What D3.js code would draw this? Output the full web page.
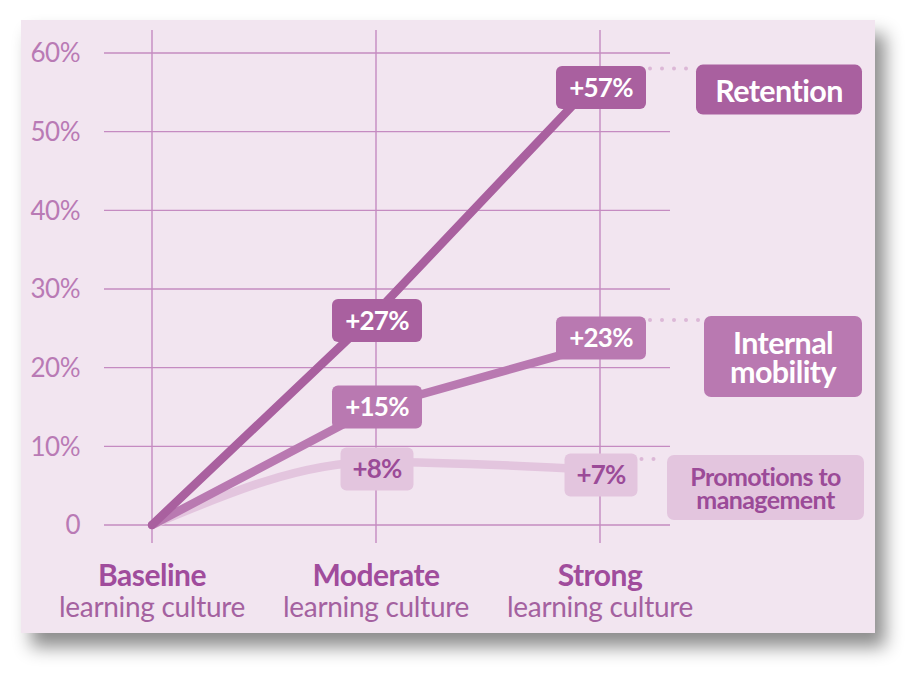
<!DOCTYPE html>
<html>
<head>
<meta charset="utf-8">
<script src="https://cdn.jsdelivr.net/npm/d3@7"></script>
<style>
  html, body { margin: 0; padding: 0; background: #ffffff; }
  svg { display: block; font-family: Lato, "Noto Sans", sans-serif; }
</style>
</head>
<body>
<svg id="chart" width="918" height="677"></svg>
<script>
// ---- data ----
const categories = ["Baseline", "Moderate", "Strong"];
const categorySub = ["learning culture", "learning culture", "learning culture"];
const retention = [0, 27, 57];
const mobility = [0, 15, 23];
const promotions = [0, 8, 7];
const yTicks = [0, 10, 20, 30, 40, 50, 60];
const seriesNames = ["Retention", "Internal mobility", "Promotions to management"];

// ---- style / layout ----
const W = 918, H = 677;
const panel = { x: 21, y: 20, w: 854, h: 613 };
const plot = { left: 152, right: 600, top: 53, bottom: 525 };
const styles = {
  "Retention": { line: "#a9609f", box: "#a9609f", text: "#ffffff", curve: d3.curveLinear, lines: ["Retention"], fs: 30.5, lh: 0, boxW: 90, legendW: 166, legendH: 50, legendX: 696, legendDy: -12, nudge: [0, 8, 11] },
  "Internal mobility": { line: "#b979b1", box: "#b979b1", text: "#ffffff", curve: d3.curveLinear, lines: ["Internal", "mobility"], fs: 30.5, lh: 29, boxW: 90, legendW: 158, legendH: 81, legendX: 704, legendDy: -28, nudge: [0, 0, -6] },
  "Promotions to management": { line: "#e3c5de", box: "#e3c5de", text: "#9b4b98", curve: d3.curveMonotoneX, lines: ["Promotions to", "management"], fs: 25, lh: 23, boxW: 73, legendW: 197, legendH: 65, legendX: 667, legendDy: -15, nudge: [0, 7, 5] }
};
const seriesValues = [retention, mobility, promotions];

const svg = d3.select("#chart");
const defs = svg.append("defs");
const f = defs.append("filter").attr("id", "shadow").attr("x", "-10%").attr("y", "-10%").attr("width", "130%").attr("height", "130%");
f.append("feDropShadow").attr("dx", 10).attr("dy", 14).attr("stdDeviation", 9)
  .attr("flood-color", "#000").attr("flood-opacity", 0.45);

svg.append("rect").attr("x", panel.x).attr("y", panel.y).attr("width", panel.w).attr("height", panel.h)
  .attr("fill", "#f2e5f0").attr("filter", "url(#shadow)");

const x = d3.scalePoint().domain(categories).range([plot.left, plot.right]);
const y = d3.scaleLinear().domain([0, 60]).range([plot.bottom, plot.top]);

const gridColor = "#c58bc1";
// horizontal grid
svg.append("g").selectAll("line").data(yTicks).join("line")
  .attr("x1", 104).attr("x2", 670)
  .attr("y1", d => y(d)).attr("y2", d => y(d))
  .attr("stroke", gridColor).attr("stroke-width", 1.4);
// vertical grid
svg.append("g").selectAll("line").data(categories).join("line")
  .attr("x1", d => x(d)).attr("x2", d => x(d))
  .attr("y1", 30).attr("y2", 543)
  .attr("stroke", gridColor).attr("stroke-width", 1.4);

// y tick labels
svg.append("g").selectAll("text").data(yTicks).join("text")
  .attr("x", 80).attr("y", d => y(d)).attr("dy", "0.36em")
  .attr("text-anchor", "end").attr("fill", "#b97ab5")
  .attr("font-size", 26).attr("letter-spacing", -0.5)
  .text(d => d === 0 ? "0" : d + "%");

// x labels
const xl = svg.append("g");
xl.selectAll("text.main").data(categories).join("text").attr("class", "main")
  .attr("x", d => x(d)).attr("y", 586).attr("text-anchor", "middle")
  .attr("fill", "#a04c9c").attr("font-weight", 700).attr("font-size", 30).attr("letter-spacing", -0.5)
  .text(d => d);
xl.selectAll("text.sub").data(categories).join("text").attr("class", "sub")
  .attr("x", d => x(d)).attr("y", 617).attr("text-anchor", "middle")
  .attr("fill", "#a461a0").attr("font-size", 28).attr("letter-spacing", -0.3)
  .text((d, i) => categorySub[i]);

// lines (draw promotions first)
const order = [2, 1, 0];
order.forEach(si => {
  const st = styles[seriesNames[si]];
  const line = d3.line().x((d, i) => x(categories[i])).y(d => y(d)).curve(st.curve);
  svg.append("path").datum(seriesValues[si]).attr("d", line)
    .attr("fill", "none").attr("stroke", st.line).attr("stroke-width", 8.5)
    .attr("stroke-linecap", "round").attr("stroke-linejoin", "round");
});

// value labels
const fmt = v => "+" + v + "%";
order.forEach(si => {
  const name = seriesNames[si];
  const st = styles[name];
  const vals = seriesValues[si];
  const g = svg.append("g");
  vals.forEach((v, i) => {
    if (i === 0) return;
    const cx = x(categories[i]) + 1;
    const cy = y(v) + st.nudge[i];
    g.append("rect").attr("x", cx - st.boxW / 2).attr("y", cy - 21.5)
      .attr("width", st.boxW).attr("height", 43).attr("rx", 6).attr("fill", st.box);
    g.append("text").attr("x", cx).attr("y", cy).attr("dy", "0.36em")
      .attr("text-anchor", "middle").attr("fill", st.text)
      .attr("font-weight", 700).attr("font-size", 26).attr("letter-spacing", -0.8)
      .text(fmt(v));
  });
});

// legend boxes + dotted leaders
seriesNames.forEach((name, si) => {
  const st = styles[name];
  const vals = seriesValues[si];
  const last = vals[vals.length - 1];
  const top = y(last) + st.legendDy;
  const lastBoxRight = x(categories[categories.length - 1]) + 1 + st.boxW / 2;
  const dotY = top + 4;
  const dots = d3.range(lastBoxRight + 4, st.legendX - 2, 12);
  svg.append("g").selectAll("circle").data(dots).join("circle")
    .attr("cx", d => d).attr("cy", dotY).attr("r", 2).attr("fill", "#dcb8d7");
  svg.append("rect").attr("x", st.legendX).attr("y", top)
    .attr("width", st.legendW).attr("height", st.legendH).attr("rx", 7).attr("fill", st.box);
  const cy = top + st.legendH / 2 + 1;
  const tx = st.legendX + st.legendW / 2;
  const label = svg.append("text")
    .attr("text-anchor", "middle")
    .attr("fill", st.text).attr("font-weight", 700)
    .attr("font-size", st.fs).attr("letter-spacing", -0.6);
  st.lines.forEach((t, li) => {
    label.append("tspan")
      .attr("x", tx)
      .attr("y", cy + (li - (st.lines.length - 1) / 2) * st.lh)
      .attr("dy", "0.36em")
      .text(t);
  });
});
</script>
</body>
</html>
